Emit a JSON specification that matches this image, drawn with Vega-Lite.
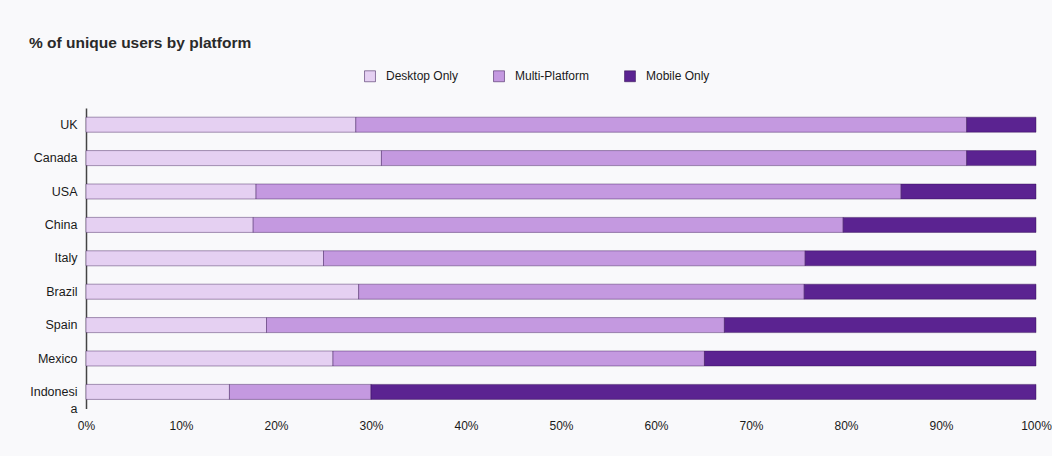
{
  "$schema": "https://vega.github.io/schema/vega-lite/v6.json",
  "width": 950,
  "height": 300.6,
  "autosize": "none",
  "padding": {"left": 86, "top": 108, "right": 16, "bottom": 47.4},
  "background": "#f9f9fb",
  "config": {"view": {"stroke": null}},
  "title": {
    "text": "% of unique users by platform",
    "anchor": "start",
    "frame": "group",
    "orient": "top",
    "offset": 19,
    "dx": -57,
    "font": "Liberation Sans",
    "fontSize": 15.5,
    "fontWeight": "bold",
    "color": "#2a2a2a"
  },
  "data": {
    "values": [
      {"country": "UK", "platform": "Desktop Only", "k": 1, "pct": 28.4},
      {"country": "UK", "platform": "Multi-Platform", "k": 2, "pct": 64.3},
      {"country": "UK", "platform": "Mobile Only", "k": 3, "pct": 7.3},
      {"country": "Canada", "platform": "Desktop Only", "k": 1, "pct": 31.1},
      {"country": "Canada", "platform": "Multi-Platform", "k": 2, "pct": 61.6},
      {"country": "Canada", "platform": "Mobile Only", "k": 3, "pct": 7.3},
      {"country": "USA", "platform": "Desktop Only", "k": 1, "pct": 17.9},
      {"country": "USA", "platform": "Multi-Platform", "k": 2, "pct": 67.9},
      {"country": "USA", "platform": "Mobile Only", "k": 3, "pct": 14.2},
      {"country": "China", "platform": "Desktop Only", "k": 1, "pct": 17.6},
      {"country": "China", "platform": "Multi-Platform", "k": 2, "pct": 62.1},
      {"country": "China", "platform": "Mobile Only", "k": 3, "pct": 20.3},
      {"country": "Italy", "platform": "Desktop Only", "k": 1, "pct": 25.0},
      {"country": "Italy", "platform": "Multi-Platform", "k": 2, "pct": 50.7},
      {"country": "Italy", "platform": "Mobile Only", "k": 3, "pct": 24.3},
      {"country": "Brazil", "platform": "Desktop Only", "k": 1, "pct": 28.7},
      {"country": "Brazil", "platform": "Multi-Platform", "k": 2, "pct": 46.9},
      {"country": "Brazil", "platform": "Mobile Only", "k": 3, "pct": 24.4},
      {"country": "Spain", "platform": "Desktop Only", "k": 1, "pct": 19.0},
      {"country": "Spain", "platform": "Multi-Platform", "k": 2, "pct": 48.2},
      {"country": "Spain", "platform": "Mobile Only", "k": 3, "pct": 32.8},
      {"country": "Mexico", "platform": "Desktop Only", "k": 1, "pct": 26.0},
      {"country": "Mexico", "platform": "Multi-Platform", "k": 2, "pct": 39.1},
      {"country": "Mexico", "platform": "Mobile Only", "k": 3, "pct": 34.9},
      {"country": "Indonesia", "platform": "Desktop Only", "k": 1, "pct": 15.1},
      {"country": "Indonesia", "platform": "Multi-Platform", "k": 2, "pct": 14.9},
      {"country": "Indonesia", "platform": "Mobile Only", "k": 3, "pct": 70.0}
    ]
  },
  "mark": {"type": "bar", "stroke": "#2a0848", "strokeOpacity": 0.4, "strokeWidth": 1},
  "encoding": {
    "y": {
      "field": "country",
      "type": "nominal",
      "sort": ["UK", "Canada", "USA", "China", "Italy", "Brazil", "Spain", "Mexico", "Indonesia"],
      "scale": {"paddingInner": 0.55, "paddingOuter": 0.275},
      "axis": {
        "title": null,
        "ticks": false,
        "domain": true,
        "domainColor": "#444444",
        "domainWidth": 1.5,
        "labelPadding": 9,
        "labelFont": "Liberation Sans",
        "labelFontSize": 12.5,
        "labelColor": "#1a1a1a",
        "labelLineHeight": 17,
        "labelExpr": "datum.label == 'Indonesia' ? ['Indonesi', 'a'] : datum.label"
      }
    },
    "x": {
      "field": "pct",
      "type": "quantitative",
      "stack": "zero",
      "scale": {"domain": [0, 100], "nice": false},
      "axis": {
        "title": null,
        "grid": false,
        "ticks": false,
        "domain": false,
        "values": [0, 10, 20, 30, 40, 50, 60, 70, 80, 90, 100],
        "labelExpr": "datum.value + '%'",
        "labelPadding": 12,
        "labelFont": "Liberation Sans",
        "labelFontSize": 12,
        "labelColor": "#1a1a1a",
        "labelFlush": false
      }
    },
    "color": {
      "field": "platform",
      "type": "nominal",
      "scale": {
        "domain": ["Desktop Only", "Multi-Platform", "Mobile Only"],
        "range": ["#e5d0f2", "#c499e0", "#5b2391"]
      },
      "legend": {
        "title": null,
        "orient": "none",
        "direction": "horizontal",
        "legendX": 278,
        "legendY": -38,
        "symbolType": "square",
        "symbolSize": 120,
        "symbolStrokeWidth": 0.5,
        "symbolOffset": 0,
        "labelOffset": 10,
        "columnPadding": 33,
        "labelFont": "Liberation Sans",
        "labelFontSize": 12,
        "labelColor": "#1a1a1a",
        "padding": 0
      }
    },
    "order": {"field": "k", "type": "quantitative"}
  }
}
